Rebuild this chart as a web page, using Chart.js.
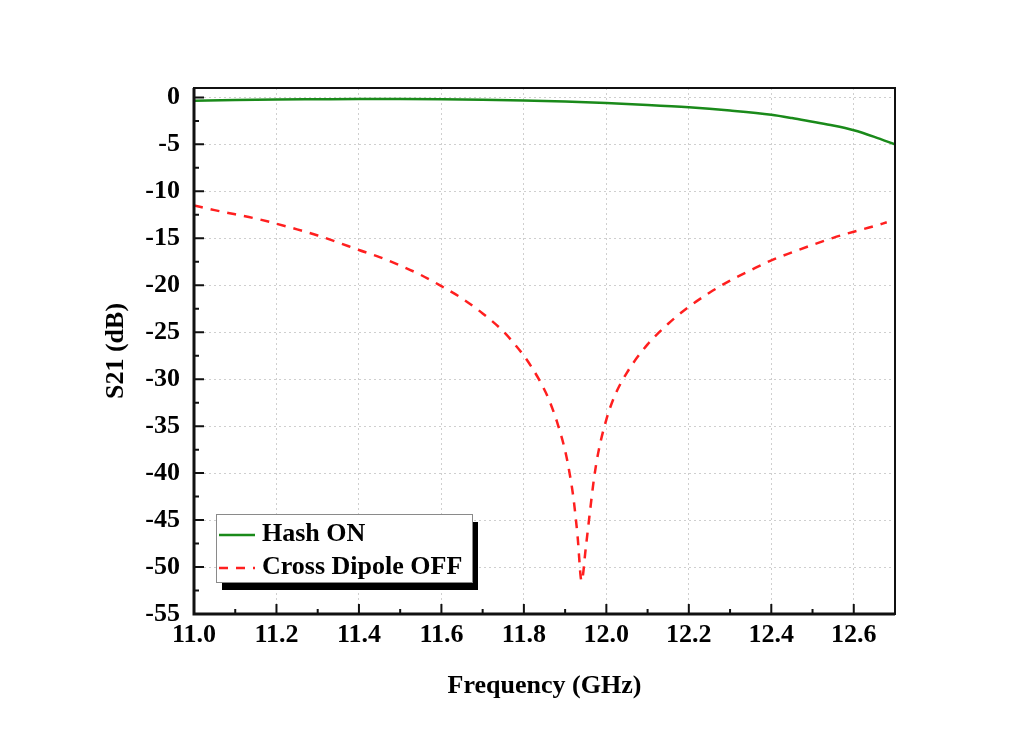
<!DOCTYPE html>
<html>
<head>
<meta charset="utf-8">
<title>S21 vs Frequency</title>
<script src="https://cdn.jsdelivr.net/npm/chart.js@4.4.1/dist/chart.umd.min.js"></script>
<style>
  html, body { margin: 0; padding: 0; background: #ffffff; }
</style>
</head>
<body>
<canvas id="s21Chart" width="1024" height="729"></canvas>
<script>
// Values
const seriesNames = ['Hash ON', 'Cross Dipole OFF'];

const hashFreq = [11.0, 11.1, 11.2, 11.3, 11.4, 11.5, 11.6, 11.7, 11.8, 11.9, 12.0,
    12.1, 12.2, 12.3, 12.4, 12.45, 12.5, 12.55, 12.6, 12.65, 12.7];
const hashS21 = [-0.35, -0.27, -0.22, -0.2, -0.18, -0.18, -0.2, -0.25, -0.33, -0.45, -0.6,
    -0.8, -1.05, -1.4, -1.85, -2.2, -2.6, -3.0, -3.5, -4.2, -5.0];

const dipoleFreq = [11.0, 11.05, 11.1, 11.15, 11.2, 11.25, 11.3, 11.35, 11.4, 11.45, 11.5,
    11.55, 11.6, 11.65, 11.7, 11.75, 11.78, 11.8, 11.82, 11.84, 11.86, 11.88, 11.9,
    11.91, 11.92, 11.93, 11.94, 11.95, 11.96, 11.97, 11.98, 12.0, 12.02, 12.05, 12.1,
    12.15, 12.2, 12.25, 12.3, 12.35, 12.4, 12.45, 12.5, 12.55, 12.6, 12.65, 12.68];
const dipoleS21 = [-11.5, -12.0, -12.45, -12.9, -13.45, -14.05, -14.7, -15.45, -16.25, -17.0, -17.9,
    -18.9, -20.1, -21.4, -23.0, -24.9, -26.4, -27.5, -28.8, -30.3, -32.1, -34.5, -37.6,
    -39.8, -42.6, -46.6, -51.5, -48.0, -44.2, -40.6, -37.9, -34.3, -31.8, -29.3, -26.3,
    -24.1, -22.3, -20.8, -19.5, -18.4, -17.35, -16.5, -15.7, -14.95, -14.3, -13.7, -13.3];

const freqTicks = [11.0, 11.2, 11.4, 11.6, 11.8, 12.0, 12.2, 12.4, 12.6];
const dbTicks = [-55, -50, -45, -40, -35, -30, -25, -20, -15, -10, -5, 0];

const serif = '"Liberation Serif", "Times New Roman", serif';
const tickFont = { family: serif, size: 26, weight: 'bold' };
const titleFont = { family: serif, size: 26, weight: 'bold' };

function toPoints(xs, ys) {
    return xs.map((x, i) => ({ x: x, y: ys[i] }));
}

// frame, inward major/minor ticks and the boxed legend with shadow
const framePlugin = {
    id: 'framePlugin',
    afterDatasetsDraw(chart) {
        const { ctx, chartArea: a, scales: { x, y } } = chart;
        ctx.save();
        ctx.strokeStyle = '#111';
        ctx.lineWidth = 2;
        ctx.beginPath();
        freqTicks.forEach((v, i) => {
            const px = x.getPixelForValue(v);
            ctx.moveTo(px, a.bottom);
            ctx.lineTo(px, a.bottom - 10);
            const mid = x.getPixelForValue(v + 0.1);
            if (mid < a.right - 2) {
                ctx.moveTo(mid, a.bottom);
                ctx.lineTo(mid, a.bottom - 5);
            }
        });
        dbTicks.forEach((v, i) => {
            const py = y.getPixelForValue(v);
            ctx.moveTo(a.left, py);
            ctx.lineTo(a.left + 10, py);
            if (i < dbTicks.length - 1) {
                const mid = y.getPixelForValue((v + dbTicks[i + 1]) / 2);
                ctx.moveTo(a.left, mid);
                ctx.lineTo(a.left + 5, mid);
            }
        });
        ctx.stroke();

        ctx.lineWidth = 2;
        ctx.strokeRect(a.left, a.top, a.right - a.left, a.bottom - a.top);
        ctx.beginPath();
        ctx.lineWidth = 3;
        ctx.moveTo(a.left, a.top);
        ctx.lineTo(a.left, a.bottom);
        ctx.lineTo(a.right, a.bottom);
        ctx.stroke();
        ctx.restore();
    },
    afterDraw(chart) {
        const { ctx, chartArea: a } = chart;
        const bx = a.left + 22, by = a.bottom - 100, bw = 256, bh = 68;
        ctx.save();
        ctx.fillStyle = '#000';
        ctx.fillRect(bx + 6, by + 8, bw, bh);
        ctx.fillStyle = '#fff';
        ctx.fillRect(bx, by, bw, bh);
        ctx.strokeStyle = '#8a8a8a';
        ctx.lineWidth = 1;
        ctx.strokeRect(bx + 0.5, by + 0.5, bw, bh);

        ctx.font = 'bold 26px ' + serif;
        ctx.textBaseline = 'middle';
        ctx.textAlign = 'left';
        chart.data.datasets.forEach((ds, i) => {
            const cy = by + 20 + i * 33;
            ctx.beginPath();
            ctx.strokeStyle = ds.borderColor;
            ctx.lineWidth = ds.borderWidth;
            ctx.setLineDash(ds.borderDash || []);
            ctx.moveTo(bx + 3, cy + 1);
            ctx.lineTo(bx + 39, cy + 1);
            ctx.stroke();
            ctx.setLineDash([]);
            ctx.fillStyle = '#000';
            ctx.fillText(ds.label, bx + 46, cy);
        });
        ctx.restore();
    }
};

new Chart(document.getElementById('s21Chart').getContext('2d'), {
    type: 'line',
    data: {
        datasets: [
            {
                label: seriesNames[0],
                data: toPoints(hashFreq, hashS21),
                borderColor: '#1a8a1a',
                borderWidth: 2.5,
                pointRadius: 0,
                cubicInterpolationMode: 'monotone',
                fill: false
            },
            {
                label: seriesNames[1],
                data: toPoints(dipoleFreq, dipoleS21),
                borderColor: '#ff1f1f',
                borderWidth: 2.5,
                borderDash: [9, 8],
                pointRadius: 0,
                cubicInterpolationMode: 'monotone',
                fill: false
            }
        ]
    },
    options: {
        responsive: false,
        animation: false,
        events: [],
        layout: { padding: { top: 88, right: 129, left: 0, bottom: 0 } },
        plugins: {
            legend: { display: false },
            tooltip: { enabled: false },
            title: { display: false }
        },
        scales: {
            x: {
                type: 'linear',
                min: 11.0,
                max: 12.7,
                afterBuildTicks: s => { s.ticks = freqTicks.map(v => ({ value: v })); },
                afterFit: s => { s.height = 115; },
                ticks: {
                    padding: 6,
                    color: '#000',
                    font: tickFont,
                    maxRotation: 0,
                    autoSkip: false,
                    callback: v => Number(v).toFixed(1)
                },
                grid: { color: '#cfcfcf', lineWidth: 1, drawTicks: false },
                border: { display: false, dash: [2, 3] },
                title: {
                    display: true,
                    text: 'Frequency (GHz)',
                    color: '#000',
                    font: titleFont,
                    padding: { top: 0, bottom: 27 }
                }
            },
            y: {
                type: 'linear',
                min: -55,
                max: 1,
                afterBuildTicks: s => { s.ticks = dbTicks.map(v => ({ value: v })); },
                afterFit: s => { s.width = 194; },
                ticks: {
                    padding: 14,
                    color: '#000',
                    font: tickFont,
                    autoSkip: false,
                    callback: v => String(v)
                },
                grid: { color: '#cfcfcf', lineWidth: 1, drawTicks: false },
                border: { display: false, dash: [2, 3] },
                title: {
                    display: true,
                    text: 'S21 (dB)',
                    color: '#000',
                    font: titleFont,
                    padding: { top: 101, bottom: 0 }
                }
            }
        }
    },
    plugins: [framePlugin]
});
</script>
</body>
</html>
